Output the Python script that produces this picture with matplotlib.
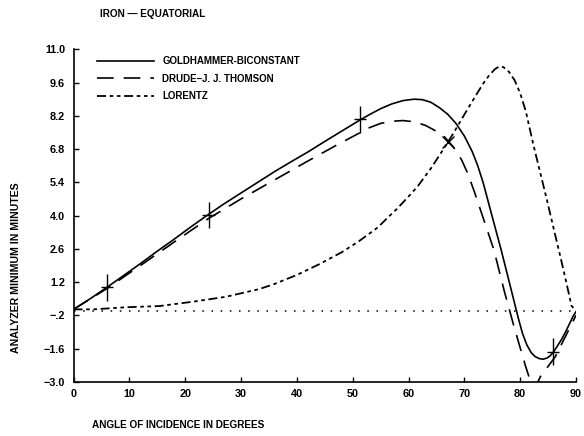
import numpy as np
import matplotlib.pyplot as plt

plt.rcParams['font.family'] = ['Liberation Sans', 'DejaVu Sans']
plt.rcParams['font.weight'] = 'bold'

# Goldhammer-biconstant (solid)
gold_x = [0, 3, 6, 9, 12, 15, 18, 21, 24, 27, 30, 33, 36, 39, 42, 45, 48, 51, 53, 55, 57,
          59, 61, 62.5, 64, 65.5, 67, 68.5, 70, 71.4, 72.4, 73.4, 75, 76.6, 78.1, 79.6,
          80.4, 81.2, 82, 82.7, 83.4, 84.1, 84.8, 85.4, 86, 86.6, 87.5, 88.3, 89.5, 90]
gold_y = [0.05, 0.5, 0.98, 1.48, 1.98, 2.5, 3.0, 3.52, 4.02, 4.5, 4.95, 5.4, 5.85, 6.27,
          6.68, 7.12, 7.55, 7.98, 8.25, 8.5, 8.7, 8.84, 8.9, 8.88, 8.77, 8.55, 8.27, 7.88,
          7.35, 6.7, 6.1, 5.36, 3.95, 2.55, 1.15, -0.26, -0.95, -1.45, -1.78, -1.94,
          -2.02, -2.05, -2.0, -1.9, -1.73, -1.52, -1.18, -0.82, -0.23, -0.05]

# Drude - J. J. Thomson (dashed)
drude_x = [0, 6, 12, 18, 24, 30, 36, 42, 47, 51, 53, 55, 57, 59, 61, 63, 65, 66.4, 68,
           69.5, 70.6, 71.8, 72.9, 75.3, 77.1, 78.9, 80.9, 82.0, 82.7, 83.6, 86.3, 88.3, 90]
drude_y = [0.05, 0.93, 1.9, 2.88, 3.85, 4.7, 5.5, 6.3, 6.95, 7.45, 7.7, 7.88, 7.97, 8.0,
           7.95, 7.8, 7.55, 7.32, 6.9, 6.35, 5.78, 5.0, 4.23, 2.55, 0.87, -0.68, -2.29,
           -3.1, -3.25, -2.79, -1.94, -1.0, -0.2]

# Lorentz (dash-dot)
lor_x = [0, 3.5, 9.5, 15.4, 21.3, 27.3, 33.2, 36, 40, 44, 48, 51, 54.5, 56, 58, 60, 61.7,
         64, 66.4, 68, 69, 70.5, 72.3, 73.5, 74.5, 75.5, 76.2, 77, 78, 79, 80, 81, 82.4,
         83.6, 84.8, 86, 87.2, 88.3, 89.2, 90]
lor_y = [0.05, 0.05, 0.14, 0.19, 0.37, 0.58, 0.9, 1.12, 1.5, 1.95, 2.45, 2.9, 3.5, 3.85,
         4.3, 4.8, 5.25, 5.98, 6.85, 7.45, 7.85, 8.45, 9.15, 9.6, 9.92, 10.17, 10.27,
         10.25, 10.05, 9.7, 9.15, 8.4, 6.95, 5.8, 4.65, 3.45, 2.27, 1.15, 0.2, 0.0]

# measured points
meas_x = [6, 24.2, 51.3, 85.9]
meas_y = [0.98, 4.02, 8.05, -1.73]
x_mark = [67]
x_mark_y = [7.1]

yticks = [11.0, 9.6, 8.2, 6.8, 5.4, 4.0, 2.6, 1.2, -0.2, -1.6, -3.0]
ytick_labels = ['11.0', '9.6', '8.2', '6.8', '5.4', '4.0', '2.6', '1.2', '\u2212.2', '\u22121.6', '\u22123.0']
xticks = [0, 10, 20, 30, 40, 50, 60, 70, 80, 90]

fig = plt.figure(figsize=(5.84, 4.36), dpi=100)
ax = fig.add_axes([0.1259, 0.1243, 0.8604, 0.7626])

ax.plot(gold_x, gold_y, color='black', lw=1.2, label='GOLDHAMMER-BICONSTANT')
ax.plot(drude_x, drude_y, color='black', lw=1.2, dashes=(10, 6), label='DRUDE\u2013J. J. THOMSON')
ax.plot(lor_x, lor_y, color='black', lw=1.3, dashes=(5, 2, 2, 2, 2, 2), label='LORENTZ')
ax.plot([0, 90], [0, 0], color='black', lw=1.1, linestyle=(0, (1, 5)))

ax.errorbar(meas_x, meas_y, xerr=1.1, yerr=0.56, fmt='none', ecolor='black',
            elinewidth=1.0, capsize=0)
ax.plot(x_mark, x_mark_y, 'x', color='black', ms=8, mew=1.0)

ax.set_xlim(0, 90)
ax.set_ylim(-3.0, 11.0)
ax.set_xticks(xticks)
ax.set_yticks(yticks)
ax.set_yticklabels(ytick_labels)
ax.tick_params(direction='in', length=3.5, width=1.0, labelsize=7.8, pad=5)
ax.tick_params(axis='y', pad=6)
for s in ['top', 'right']:
    ax.spines[s].set_visible(False)
for s in ['left', 'bottom']:
    ax.spines[s].set_linewidth(1.2)

leg = ax.legend(loc='upper left', bbox_to_anchor=(0.03, 1.005), frameon=False,
                fontsize=7, handlelength=5.8, handletextpad=0.9, labelspacing=0.75)

fig.text(0.171, 0.968, 'IRON \u2014 EQUATORIAL', fontsize=7.2, va='center', ha='left')
fig.text(0.028, 0.385, 'ANALYZER MINIMUM IN MINUTES', fontsize=7.6, rotation=90,
         va='center', ha='center')
fig.text(0.158, 0.025, 'ANGLE OF INCIDENCE IN DEGREES', fontsize=7.2, va='center', ha='left')

fig.savefig('out.png', dpi=100)
